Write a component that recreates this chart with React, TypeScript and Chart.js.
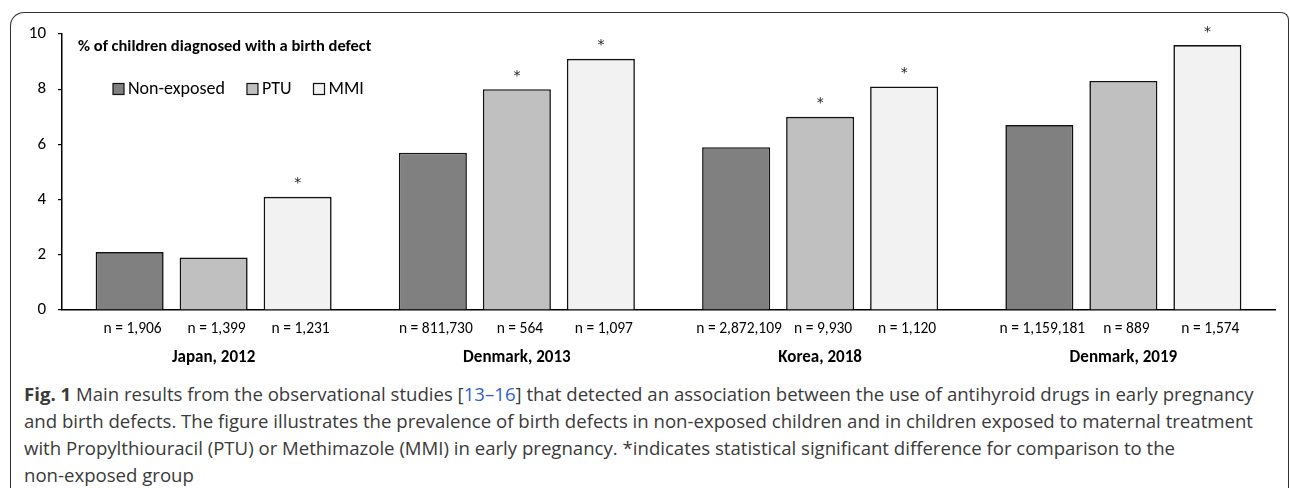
import React, { useEffect, useRef } from "react";
import { Chart, registerables } from "chart.js";

Chart.register(...registerables);

const categories = ["Japan, 2012", "Denmark, 2013", "Korea, 2018", "Denmark, 2019"];
const seriesLabels = ["Non-exposed", "PTU", "MMI"];
const nonExposed = [2.1, 5.7, 5.9, 6.7];
const ptu = [1.9, 8.0, 7.0, 8.3];
const mmi = [4.1, 9.1, 8.1, 9.6];
const nonExposedN = ["n = 1,906", "n = 811,730", "n = 2,872,109", "n = 1,159,181"];
const ptuN = ["n = 1,399", "n = 564", "n = 9,930", "n = 889"];
const mmiN = ["n = 1,231", "n = 1,097", "n = 1,120", "n = 1,574"];
const nonExposedSig = [false, false, false, false];
const ptuSig = [false, true, true, false];
const mmiSig = [true, true, true, true];
const yTicks = [0, 2, 4, 6, 8, 10];
const yTitle = "% of children diagnosed with a birth defect";

const seriesColors = ["#808080", "#c0c0c0", "#f2f2f2"];
const FONT = "Carlito, Lato, sans-serif";

const annotationPlugin = {
  id: "annotations",
  afterDatasetsDraw(chart: any) {
    const ctx = chart.ctx;
    const area = chart.chartArea;
    const nLists = [nonExposedN, ptuN, mmiN];
    const sigLists = [nonExposedSig, ptuSig, mmiSig];
    ctx.save();
    ctx.fillStyle = "#000";
    chart.data.datasets.forEach((ds: any, di: number) => {
      const meta = chart.getDatasetMeta(di);
      meta.data.forEach((bar: any, i: number) => {
        ctx.font = `15.5px ${FONT}`;
        ctx.textAlign = "center";
        ctx.textBaseline = "middle";
        ctx.fillText(nLists[di][i], bar.x + 3, area.bottom + 19);
        if (sigLists[di][i]) {
          ctx.font = `14px 'DejaVu Sans', sans-serif`;
          ctx.fillStyle = "#222";
          ctx.fillText("*", bar.x, bar.y - 13);
          ctx.fillStyle = "#000";
        }
      });
    });
    const xs = chart.scales.x;
    ctx.font = `bold 17px ${FONT}`;
    categories.forEach((c, i) => {
      ctx.fillText(c, xs.getPixelForValue(i), area.bottom + 48);
    });
    ctx.textAlign = "left";
    ctx.font = `bold 16.5px ${FONT}`;
    ctx.fillText(yTitle, area.left + 16, area.top + 13);
    ctx.font = `18px ${FONT}`;
    let x = area.left + 51;
    const ly = area.top + 55;
    seriesLabels.forEach((lab, i) => {
      ctx.fillStyle = seriesColors[i];
      ctx.fillRect(x, ly - 5.5, 11, 11);
      ctx.strokeStyle = "#111";
      ctx.lineWidth = 1.2;
      ctx.strokeRect(x, ly - 5.5, 11, 11);
      ctx.fillStyle = "#000";
      ctx.fillText(lab, x + 15, ly);
      x += 15 + ctx.measureText(lab).width + 22;
    });
    ctx.restore();
  },
};

export default function App() {
  const ref = useRef<HTMLCanvasElement>(null);
  useEffect(() => {
    document.body.style.margin = "0";
    const chart = new Chart(ref.current as HTMLCanvasElement, {
      type: "bar",
      data: {
        labels: categories,
        datasets: [nonExposed, ptu, mmi].map((d, i) => ({
          label: seriesLabels[i],
          data: d,
          backgroundColor: seriesColors[i],
          borderColor: "#111",
          borderWidth: 1.6,
          categoryPercentage: 0.831,
          barPercentage: 0.81,
        })),
      },
      options: {
        responsive: false,
        animation: false,
        layout: { padding: { top: 34, right: 15, bottom: 70, left: 0 } },
        plugins: { legend: { display: false }, tooltip: { enabled: false } },
        scales: {
          x: {
            ticks: { display: false },
            grid: { display: false },
            border: { display: true, color: "#000", width: 1.5 },
            afterFit: (s: any) => {
              s.height = 0;
            },
          },
          y: {
            min: 0,
            max: 10,
            afterBuildTicks: (s: any) => {
              s.ticks = yTicks.map((v) => ({ value: v }));
            },
            ticks: {
              color: "#000",
              font: { family: FONT, size: 17 },
              padding: 12,
            },
            grid: { drawOnChartArea: false, drawTicks: true, tickLength: 4, color: "#000", lineWidth: 1.2 },
            border: { display: true, color: "#000", width: 1.5 },
            afterFit: (s: any) => {
              s.width = 62;
            },
          },
        },
      },
      plugins: [annotationPlugin],
    });
    return () => chart.destroy();
  }, []);

  const cap: React.CSSProperties = {
    position: "absolute",
    left: 24,
    top: 380,
    fontFamily: "'Open Sans', sans-serif",
    fontSize: 18.6,
    lineHeight: "27px",
    color: "#3a3a3a",
    whiteSpace: "nowrap",
  };

  return (
    <div style={{ position: "fixed", left: 0, top: 0, width: 1290, height: 488, overflow: "hidden", background: "#fff" }}>
      <div
        style={{
          position: "absolute",
          left: 10,
          top: 12,
          width: 1279,
          height: 520,
          boxSizing: "border-box",
          borderTop: "1.5px solid #333",
          borderLeft: "1.5px solid #333",
          borderRight: "1.5px solid #333",
          borderTopLeftRadius: 14,
          borderTopRightRadius: 8,
        }}
      />
      <canvas ref={ref} width={1290} height={380} style={{ position: "absolute", left: 0, top: 0, width: 1290, height: 380 }} />
      <div style={cap}>
        <b style={{ fontWeight: 700 }}>Fig. 1</b> Main results from the observational studies [<span style={{ color: "#2f5fd0" }}>13–16</span>] that detected an association between the use of antihyroid drugs in early pregnancy
        <br />
        and birth defects. The figure illustrates the prevalence of birth defects in non-exposed children and in children exposed to maternal treatment
        <br />
        with Propylthiouracil (PTU) or Methimazole (MMI) in early pregnancy. *indicates statistical significant difference for comparison to the
        <br />
        non-exposed group
      </div>
    </div>
  );
}
